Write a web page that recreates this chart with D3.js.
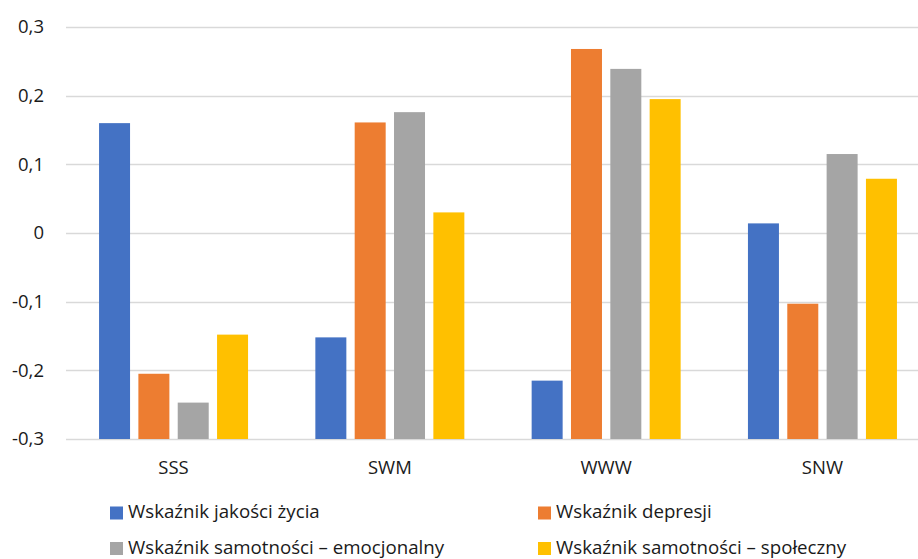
<!DOCTYPE html>
<html><head><meta charset="utf-8">
<script src="https://cdn.jsdelivr.net/npm/d3@7"></script>
<style>body{margin:0;background:#fff}svg{display:block}</style>
</head><body>
<script>
const categories = ["SSS", "SWM", "WWW", "SNW"];
const seriesNames = ["Wskaźnik jakości życia", "Wskaźnik depresji", "Wskaźnik samotności – emocjonalny", "Wskaźnik samotności – społeczny"];
const jakosc = [0.160, -0.152, -0.215, 0.014];
const depresja = [-0.205, 0.161, 0.268, -0.103];
const emocjonalny = [-0.247, 0.176, 0.239, 0.115];
const spoleczny = [-0.148, 0.030, 0.195, 0.079];
const tickValues = [-0.3, -0.2, -0.1, 0, 0.1, 0.2, 0.3];
const colors = ["#4472C4", "#ED7D31", "#A5A5A5", "#FFC000"];

const series = [jakosc, depresja, emocjonalny, spoleczny];
const W = 918, H = 559;
const svg = d3.select("body").append("svg").attr("width", W).attr("height", H);
const font = "'Open Sans', sans-serif";

const x0 = d3.scaleBand().domain(categories).range([65.4, 930.6]).padding(0);
const groupW = 149;
const x1 = d3.scaleBand().domain(d3.range(series.length))
  .range([(x0.bandwidth() - groupW) / 2, (x0.bandwidth() + groupW) / 2]).paddingInner(0.212).paddingOuter(0);
const y = d3.scaleLinear().domain([-0.3, 0.3]).range([439, 27]);
const base = -0.3;

// gridlines
svg.append("g").selectAll("line").data(tickValues).join("line")
  .attr("x1", 66).attr("x2", 918)
  .attr("y1", d => Math.round(y(d)) + 0.5).attr("y2", d => Math.round(y(d)) + 0.5)
  .attr("stroke", "#D9D9D9").attr("stroke-width", 1.3);

// y axis labels
const fmt = d => d === 0 ? "0" : d3.format(".1f")(d).replace(".", ",").replace("−", "-");
const yAxis = d3.axisLeft(y).tickValues(tickValues).tickFormat(fmt).tickSize(0).tickPadding(0);
const gy = svg.append("g").attr("transform", "translate(44,0)").call(yAxis);
gy.select(".domain").remove();
gy.selectAll("text").attr("font-family", font).attr("font-size", 18.5).attr("fill", "#1a1a1a");

// bars (category axis crosses at the minimum, so bars grow from -0.3)
categories.forEach((c, ci) => {
  const g = svg.append("g").attr("transform", `translate(${x0(c)},0)`);
  g.selectAll("rect").data(series.map((s, si) => ({si, v: s[ci]}))).join("rect")
    .attr("x", d => x1(d.si))
    .attr("width", x1.bandwidth())
    .attr("y", d => y(d.v))
    .attr("height", d => y(base) - y(d.v))
    .attr("fill", d => colors[d.si]);
});

// x category labels
const xAxis = d3.axisBottom(x0).tickSize(0).tickPadding(0);
const gx = svg.append("g").attr("transform", "translate(0,474)").call(xAxis);
gx.select(".domain").remove();
gx.selectAll("text").attr("font-family", font).attr("font-size", 18.5).attr("fill", "#1a1a1a").attr("dy", "0");

// legend
const legendPos = [[110, 518], [538, 518], [110, 553.5], [538, 553.5]];
seriesNames.forEach((n, i) => {
  const [lx, ly] = legendPos[i];
  svg.append("rect").attr("x", lx).attr("y", ly - 11.5).attr("width", 13).attr("height", 13).attr("fill", colors[i]);
  svg.append("text").attr("x", lx + 18).attr("y", ly)
    .attr("font-family", font).attr("font-size", 18.7).attr("fill", "#1a1a1a").text(n);
});
</script>
</body></html>
